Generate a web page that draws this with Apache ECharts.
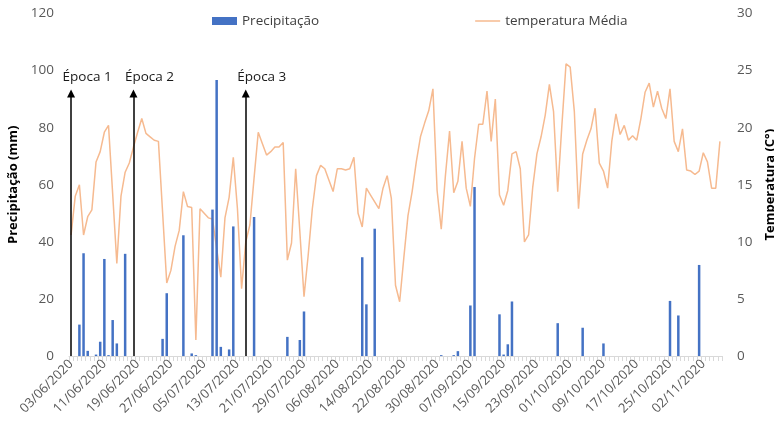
<!DOCTYPE html>
<html>
<head>
<meta charset="utf-8">
<script src="https://cdn.jsdelivr.net/npm/echarts@6/dist/echarts.min.js"></script>
<style>
  html, body { margin: 0; padding: 0; background: #fff; }
  #chart { width: 774px; height: 434px; }
</style>
</head>
<body>
<div id="chart"></div>
<script>
// Daily series, 03/06/2020 to 06/11/2020
const startDate = [2020, 5, 3]; // year, month (0-based), day

// Daily rainfall (mm)
const precipitacao = [
  0, 0, 11, 36, 1.8, 0, 0.5, 5, 34, 0.3,
  12.6, 4.4, 0, 35.8, 0, 0, 0, 0, 0, 0,
  0, 0, 6, 22, 0, 0, 0, 42.3, 0, 0.9,
  0.3, 0, 0, 0, 51.3, 96.7, 3.2, 0, 2.3, 45.4,
  0, 0, 0, 0, 48.7, 0, 0, 0, 0, 0,
  0, 0, 6.7, 0, 0, 5.6, 15.6, 0, 0, 0,
  0, 0, 0, 0, 0, 0, 0, 0, 0, 0,
  34.6, 18.1, 0, 44.6, 0, 0, 0, 0, 0, 0,
  0, 0, 0, 0, 0, 0, 0, 0, 0, 0.3,
  0, 0, 0.3, 1.7, 0, 0, 17.7, 59.2, 0, 0,
  0, 0, 0, 14.6, 0.5, 4.1, 19.1, 0, 0, 0,
  0, 0, 0, 0, 0, 0, 0, 11.5, 0, 0,
  0, 0, 0, 9.9, 0, 0, 0, 0, 4.4, 0,
  0, 0, 0, 0, 0, 0, 0, 0, 0, 0,
  0, 0, 0, 0, 19.3, 0, 14.2, 0, 0, 0,
  0, 31.9, 0, 0, 0, 0, 0
];

// Daily mean temperature (°C)
const temperaturaMedia = [
  10.6, 14.0, 15.0, 10.6, 12.2, 12.8, 17.0, 17.9, 19.6, 20.2,
  14.2, 8.1, 14.0, 16.1, 16.9, 18.3, 19.6, 20.8, 19.5, 19.2,
  18.9, 18.8, 12.6, 6.4, 7.5, 9.6, 11.0, 14.4, 13.1, 13.0,
  1.4, 12.9, 12.5, 12.1, 12.0, 9.4, 6.9, 12.1, 13.9, 17.4,
  12.9, 5.9, 10.0, 11.5, 15.6, 19.6, 18.6, 17.6, 17.9, 18.3,
  18.3, 18.7, 8.4, 9.9, 16.4, 10.9, 5.2, 8.8, 12.9, 15.8,
  16.7, 16.4, 15.4, 14.4, 16.4, 16.4, 16.3, 16.4, 17.4, 12.5,
  11.3, 14.7, 14.1, 13.5, 12.9, 14.7, 15.8, 13.8, 6.2, 4.75,
  8.6, 12.3, 14.4, 17.0, 19.2, 20.4, 21.5, 23.4, 14.5, 11.1,
  15.8, 19.7, 14.3, 15.3, 18.8, 14.7, 13.1, 17.3, 20.3, 20.3,
  23.2, 18.8, 22.5, 14.1, 13.2, 14.5, 17.7, 17.9, 16.4, 10.0,
  10.6, 14.8, 17.7, 19.2, 21.1, 23.8, 21.4, 14.4, 20.2, 25.6,
  25.3, 21.4, 12.9, 17.7, 18.9, 19.9, 21.7, 16.9, 16.2, 14.7,
  18.8, 21.2, 19.4, 20.2, 18.9, 19.3, 18.9, 20.8, 23.1, 23.9,
  21.8, 23.2, 21.7, 20.8, 23.4, 18.8, 17.9, 19.9, 16.3, 16.2,
  15.9, 16.2, 17.8, 17.0, 14.7, 14.7, 18.8
];

// Sowing dates marked with arrows
const epocas = ['Época 1', 'Época 2', 'Época 3'];
const epocaDias = ['03/06/2020', '18/06/2020', '15/07/2020'];
const setaTopo = 92; // arrow head centre, in mm on the left axis

// Category labels: one per day
function pad(n) { return n < 10 ? '0' + n : '' + n; }
const dias = [];
for (let k = 0; k < precipitacao.length; k++) {
  const d = new Date(startDate[0], startDate[1], startDate[2] + k);
  dias.push(pad(d.getDate()) + '/' + pad(d.getMonth() + 1) + '/' + d.getFullYear());
}

const fonte = '"Open Sans", "Liberation Sans", sans-serif';
const corLinha = '#F6BA90';
// Legend glyph for the line: a thin stroke kept inside a 25x8 box
const iconeLinha = 'path://M0,0L0.01,0L0.01,0.01ZM0,8L0.01,8L0.01,7.99ZM0,3.3H25V4.7H0Z';

const chart = echarts.init(document.getElementById('chart'), null, { renderer: 'canvas' });

chart.setOption({
  animation: false,
  textStyle: { fontFamily: fonte },
  legend: {
    left: 207,
    top: 9,
    itemWidth: 25,
    itemHeight: 8,
    itemGap: 156,
    textStyle: { fontFamily: fonte, fontSize: 13.5, color: '#404040' },
    data: [
      { name: 'Precipitação', icon: 'rect' },
      { name: 'temperatura Média', icon: iconeLinha }
    ]
  },
  grid: {
    left: 69, right: 52, top: 13.5, bottom: 78,
    containLabel: false,
    outerBoundsMode: 'none'
  },
  xAxis: {
    type: 'category',
    data: dias,
    boundaryGap: true,
    axisLine: { show: true, lineStyle: { color: '#d9d9d9', width: 1 } },
    axisTick: { show: true, interval: 0, length: 5, lineStyle: { color: '#d9d9d9' } },
    axisLabel: {
      interval: 7,
      rotate: 45,
      margin: 6,
      fontFamily: fonte,
      fontSize: 13,
      color: '#595959'
    },
    splitLine: { show: false }
  },
  yAxis: [
    {
      type: 'value',
      min: 0, max: 120, interval: 20,
      name: 'Precipitação (mm)',
      nameLocation: 'middle',
      nameRotate: 90,
      nameGap: 49,
      nameTextStyle: { fontFamily: fonte, fontSize: 13, fontWeight: 'bold', color: '#000' },
      axisLine: { show: false },
      axisTick: { show: false },
      axisLabel: { margin: 15, fontFamily: fonte, fontSize: 13.5, color: '#595959' },
      splitLine: { show: false }
    },
    {
      type: 'value',
      min: 0, max: 30, interval: 5,
      name: 'Temperatura (C°)',
      nameLocation: 'middle',
      nameRotate: 90,
      nameGap: 40,
      nameTextStyle: { fontFamily: fonte, fontSize: 13, fontWeight: 'bold', color: '#000' },
      axisLine: { show: false },
      axisTick: { show: false },
      axisLabel: { margin: 15, fontFamily: fonte, fontSize: 13.5, color: '#595959' },
      splitLine: { show: false }
    }
  ],
  series: [
    {
      name: 'Precipitação',
      type: 'bar',
      yAxisIndex: 0,
      data: precipitacao,
      barWidth: 2.5,
      itemStyle: { color: '#4472C4' },
      z: 3,
      markLine: {
        silent: true,
        symbol: ['none', 'triangle'],
        symbolSize: 8,
        label: { show: false },
        lineStyle: { color: '#000', width: 1.5, type: 'solid' },
        data: epocaDias.map(function (d) {
          return [{ coord: [d, 0] }, { coord: [d, setaTopo] }];
        })
      },
      markPoint: {
        silent: true,
        symbol: 'circle',
        symbolSize: 1,
        itemStyle: { color: 'rgba(0,0,0,0)' },
        label: {
          show: true,
          formatter: '{b}',
          position: [-8, -23],
          fontFamily: fonte,
          fontSize: 13.5,
          color: '#1a1a1a'
        },
        data: epocas.map(function (nome, k) {
          return { name: nome, coord: [epocaDias[k], setaTopo] };
        })
      }
    },
    {
      name: 'temperatura Média',
      type: 'line',
      yAxisIndex: 1,
      data: temperaturaMedia,
      symbol: 'none',
      lineStyle: { color: corLinha, width: 1.5 },
      itemStyle: { color: corLinha },
      z: 2
    }
  ]
});
</script>
</body>
</html>
